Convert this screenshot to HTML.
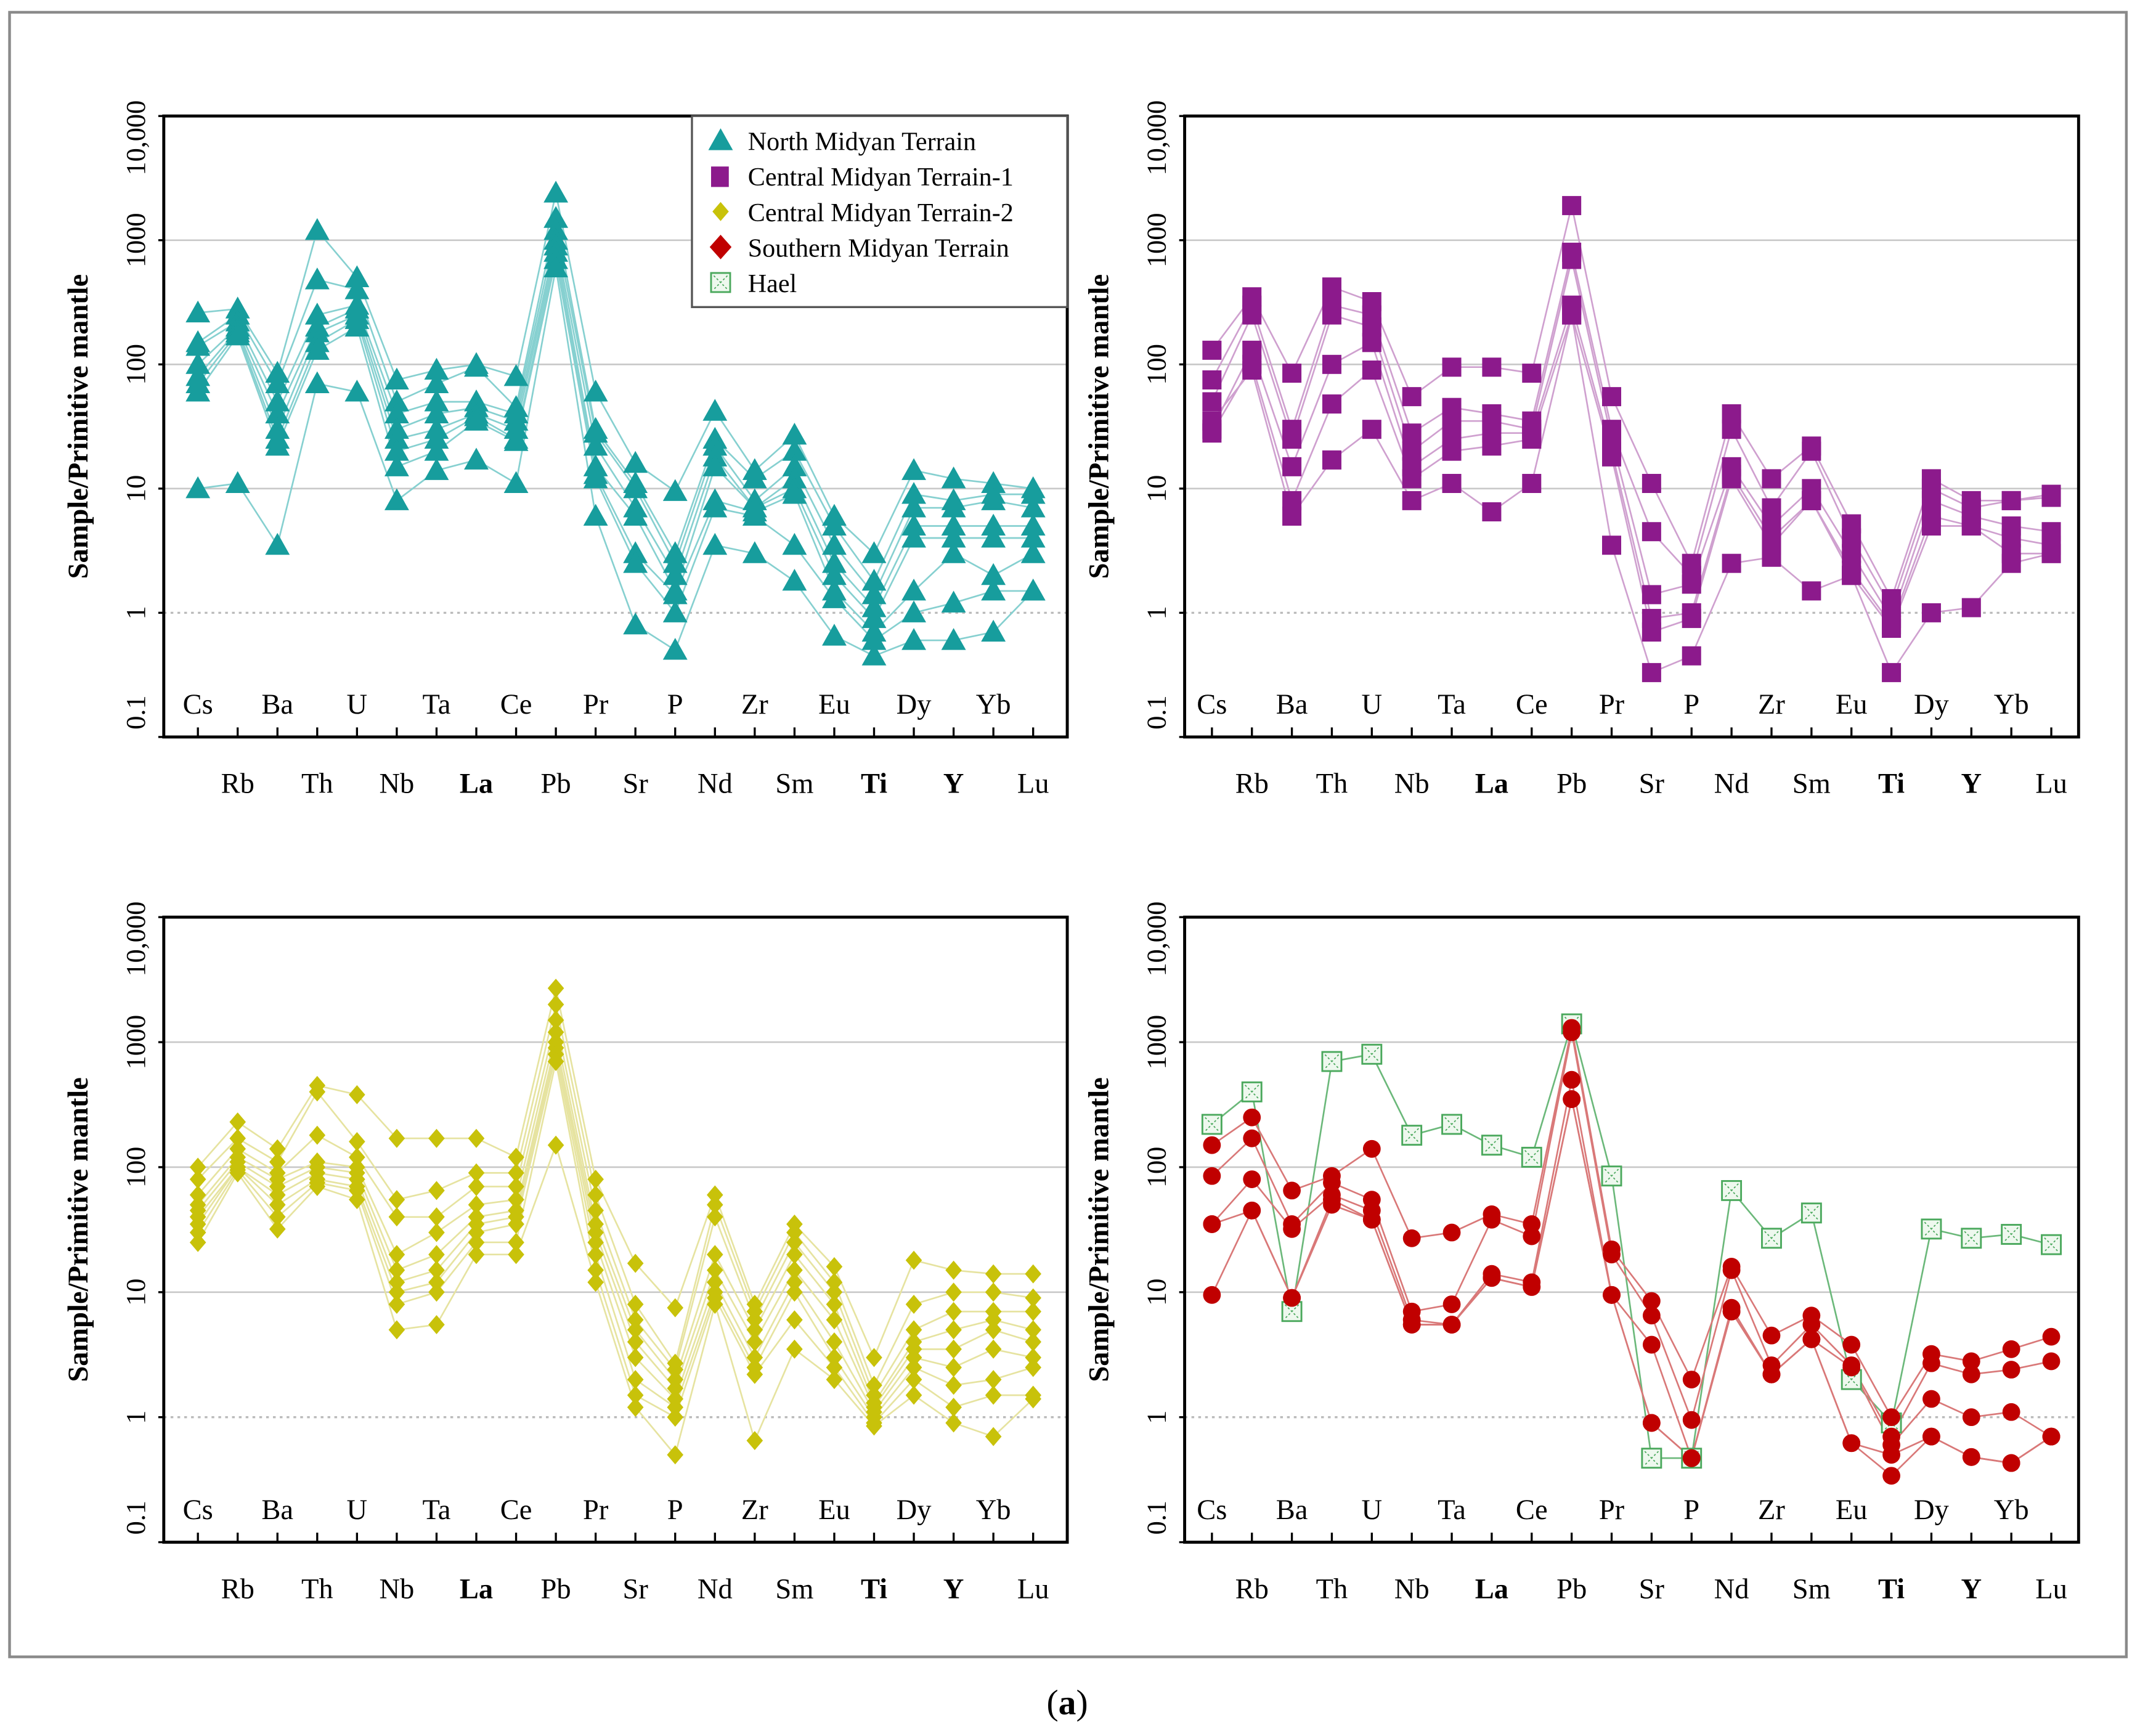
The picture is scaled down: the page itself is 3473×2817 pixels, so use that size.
<!DOCTYPE html>
<html><head><meta charset="utf-8">
<style>
html,body{margin:0;padding:0;background:#fff;}
svg{display:block;}
text{font-family:"Liberation Serif",serif;}
</style></head>
<body>
<svg id="fig" width="3473" height="2817" viewBox="0 0 1568 1272" preserveAspectRatio="none" xmlns="http://www.w3.org/2000/svg">
<rect x="0" y="0" width="1568" height="1272" fill="#fff"/>
<rect x="7" y="9" width="1551" height="1205" fill="none" stroke="#8a8a8a" stroke-width="2"/>
<text x="782" y="1256" font-size="26" text-anchor="middle">(<tspan font-weight="bold">a</tspan>)</text>
</svg>
<script>
const elements = ["Cs","Rb","Ba","Th","U","Nb","Ta","La","Ce","Pb","Pr","Sr","P","Nd","Zr","Sm","Eu","Ti","Dy","Y","Yb","Lu"];
const yTicks = [0.1,1,10,100,1000,10000];
const yTickLabels = ["0.1","1","10","100","1000","10,000"];

const northMidyan = [
 [260,280,85,1200,500,75,90,100,80,2400,60,16,9.5,42,14,27,6,3,14,12,11,10],
 [150,250,70,480,400,50,70,95,45,1500,30,11,3,25,12,20,5,1.8,9,8,9,9],
 [140,220,50,250,300,40,50,50,40,1200,28,10,2.5,22,8,15,3.5,1.4,7,7,8,7],
 [100,200,40,200,280,30,40,45,35,1000,22,7,2,18,7,12,2.5,1.1,5,5,5,5],
 [80,190,30,180,250,25,30,40,30,900,15,6,1.5,15,7,10,2,0.9,4,4,4,4],
 [70,180,25,150,230,20,25,38,25,800,13,3,1.4,8,6.5,9,1.5,0.7,1.5,3,2,3],
 [60,170,22,130,200,15,20,35,24,700,12,2.5,1,7,6,3.5,1.3,0.6,1,1.2,1.5,1.5],
 [10,11,3.5,70,60,8,14,17,11,600,6,0.8,0.5,3.5,3,1.8,0.65,0.45,0.6,0.6,0.7,1.5]
];
const centralMidyan1 = [
 [130,350,85,420,320,55,95,95,85,1900,55,11,2.5,40,12,22,5.2,1.3,12,8,8,9],
 [75,300,30,300,250,28,45,40,35,800,30,4.5,2,30,7,20,4,1.1,10,7,8,8.5],
 [50,250,25,250,200,20,35,35,30,700,25,1.4,1.7,15,5,10,3,0.9,8,6,5,4.5],
 [30,130,15,100,150,15,25,28,28,300,20,0.9,1,13,4,8,2.2,0.8,6,5,4,3.5],
 [28,100,8,48,90,12,20,22,25,250,18,0.7,0.9,12,3.5,8,2,0.75,5,5,3,3],
 [35,90,6,17,30,8,11,6.5,11,250,3.5,0.33,0.45,2.5,2.8,1.5,2,0.33,1,1.1,2.5,3]
];
const centralMidyan2 = [
 [100,230,140,450,380,170,170,170,120,2700,80,17,7.5,60,8,35,16,3,18,15,14,14],
 [80,170,110,400,160,55,65,90,90,2000,60,8,2.7,50,7,30,12,1.8,8,10,10,9],
 [60,140,90,180,120,40,40,70,70,1500,45,6,2.4,40,6,25,10,1.5,5,7,7,7],
 [50,120,80,110,100,20,30,50,55,1200,35,5,2,20,5,20,8,1.3,4,5,6,5],
 [45,110,70,100,90,15,20,40,45,1000,30,4,1.7,15,4,15,6,1.2,3.5,3.5,5,4],
 [40,100,60,90,80,12,15,35,40,900,25,3,1.4,12,3,12,4,1.1,3,2.5,3.5,3],
 [35,100,50,80,70,10,12,30,35,800,20,2,1.2,10,2.5,10,3,1,2.5,1.8,2,2.5],
 [30,95,40,75,65,8,10,25,25,700,15,1.5,1,9,2.2,6,2.5,0.9,2,1.2,1.5,1.5],
 [25,90,32,70,55,5,5.5,20,20,150,12,1.2,0.5,8,0.65,3.5,2,0.85,1.5,0.9,0.7,1.4]
];
const southernMidyan = [
 [150,250,65,85,140,27,30,42,35,1300,22,8.5,2,16,4.5,6.5,3.8,1,3.2,2.8,3.5,4.4],
 [85,170,35,75,55,7,8,38,28,1200,20,6.5,0.95,15,2.6,5.5,2.6,0.7,2.7,2.2,2.4,2.8],
 [35,80,32,60,45,6,5.5,14,12,500,9.5,3.8,0.47,7.5,2.2,4.2,2.5,0.6,1.4,1,1.1,0.7],
 [35,45,9,55,38,5.5,5.5,13,11,350,9.5,0.9,0.47,7,2.2,4.2,0.62,0.5,0.7,0.48,0.43,0.7],
 [9.5,45,9,50,38,5.5,5.5,13,11,350,9.5,0.9,0.47,7,2.2,4.2,0.62,0.34,0.7,0.48,0.43,0.7]
];
const hael = [220,400,7,700,800,180,220,150,120,1400,85,0.47,0.47,65,27,43,2,0.9,32,27,29,24];

const NS="http://www.w3.org/2000/svg";
const svg=document.getElementById('fig');
function mk(tag,attrs,parent){const e=document.createElementNS(NS,tag);for(const k in attrs)e.setAttribute(k,attrs[k]);(parent||svg).appendChild(e);return e;}

function drawPanel(p){
  const g=mk('g',{});
  
  
  const x0=p.x0,x1=p.x1,y0=p.y0,y1=p.y1,off=p.off;
  const xs=i=>x0+off+i*((x1-x0-2*off)/(elements.length-1));
  const ys=v=>y1-(Math.log10(v)+1)/5*(y1-y0);
  // gridlines
  [10,100,1000].forEach(t=>{const l=mk('line',{x1:x0,x2:x1,y1:ys(t),y2:ys(t),stroke:'#c8c8c8','stroke-width':1.2},g);
    
    });
  const d=mk('line',{x1:x0,x2:x1,y1:ys(1),y2:ys(1),stroke:'#bbb','stroke-width':1.5,'stroke-dasharray':'2,3'},g);
  
  
  // tick labels
  yTicks.forEach((t,i)=>{let cy=ys(t); if(i===yTicks.length-1)cy+=16; if(i===0)cy-=18;
    const tx=mk('text',{x:0,y:0,'font-size':20,'text-anchor':'middle',transform:`translate(${x0-14},${cy}) rotate(-90)`},g);
    
    
    tx.textContent=yTickLabels[i];
    mk('line',{x1:x0-4,x2:x0,y1:ys(t),y2:ys(t),stroke:'#000','stroke-width':1.5},g);});
  const yt=mk('text',{x:0,y:0,'font-size':21,'font-weight':'bold','text-anchor':'middle',transform:`translate(${x0-56},${(y0+y1)/2}) rotate(-90)`},g);
  
  
  yt.setAttribute('font-family','"Liberation Sans",sans-serif');
  yt.textContent='Sample/Primitive mantle';
  // category labels & ticks
  elements.forEach((el,i)=>{const x=xs(i);
    mk('line',{x1:x,x2:x,y1:y1,y2:y1-7,stroke:'#000','stroke-width':1.5},g);
    const top=i%2===0;
    const t=mk('text',{x:x,y:top?y1-17:y1+41,'font-size':21,'text-anchor':'middle'},g);
    
    
    if(el==='Ti'||el==='Y'||el==='La')t.setAttribute('font-weight','bold');
    t.textContent=el;});
  // series
  p.series.forEach(s=>{
    s.data.forEach(vals=>{
      const pts=vals.map((v,i)=>xs(i).toFixed(1)+','+ys(v).toFixed(1)).join(' ');
      const pl=mk('polyline',{points:pts,fill:'none',stroke:s.line,'stroke-width':1.2},g);
      
      
    });
  });
  p.series.forEach(s=>{
    s.data.forEach(vals=>{
      vals.forEach((v,i)=>{const m=marker(s.shape,xs(i),ys(v),s.color,g,s.stroke);
        
        });
    });
  });
  const fr=mk('rect',{x:x0,y:y0,width:x1-x0,height:y1-y0,fill:'none',stroke:'#000','stroke-width':2.2},g);
  
  
  return g;
}
function marker(shape,x,y,c,g,sc){
  if(shape==='tri')return mk('polygon',{points:`${x},${y-9} ${x-9},${y+7} ${x+9},${y+7}`,fill:c},g);
  if(shape==='sq')return mk('rect',{x:x-7,y:y-7,width:14,height:14,fill:c},g);
  if(shape==='dia')return mk('polygon',{points:`${x},${y-7} ${x+6},${y} ${x},${y+7} ${x-6},${y}`,fill:c},g);
  if(shape==='circ')return mk('circle',{cx:x,cy:y,r:6.5,fill:c},g);
  if(shape==='hael'){const gg=mk('g',{},g);mk('rect',{x:x-7,y:y-7,width:14,height:14,fill:'#eef8ee',stroke:sc,'stroke-width':1.3},gg);
    mk('path',{d:`M${x-5} ${y-5}L${x+5} ${y+5}M${x+5} ${y-5}L${x-5} ${y+5}`,stroke:sc,'stroke-width':0.8,'stroke-dasharray':'1.5,1.5'},gg);return gg;}
}
const TEAL='#179d9d',PUR='#8c1a8c',YEL='#c8c20a',RED='#c00000',GRN='#4aa85c';
drawPanel({name:'north-midyan-panel',x0:120,x1:782,y0:85,y1:540,off:25,series:[{key:'north-midyan',data:northMidyan,color:TEAL,line:'#86d0d0',shape:'tri'}]});
drawPanel({name:'central-midyan-1-panel',x0:868,x1:1523,y0:85,y1:540,off:20,series:[{key:'central-midyan-1',data:centralMidyan1,color:PUR,line:'#cfa0cf',shape:'sq'}]});
drawPanel({name:'central-midyan-2-panel',x0:120,x1:782,y0:672,y1:1130,off:25,series:[{key:'central-midyan-2',data:centralMidyan2,color:YEL,line:'#e6e3a0',shape:'dia'}]});
drawPanel({name:'southern-midyan-panel',x0:868,x1:1523,y0:672,y1:1130,off:20,series:[{key:'hael',data:[hael],color:'#eef8ee',line:'#6bb87a',shape:'hael',stroke:GRN},{key:'southern-midyan',data:southernMidyan,color:RED,line:'#d97878',shape:'circ'}]});

// legend
const lg=mk('g',{});


mk('rect',{x:507,y:85,width:275,height:140,fill:'#fff',stroke:'#555','stroke-width':1.5},lg);
const legendLabels=["North Midyan Terrain","Central Midyan Terrain-1","Central Midyan Terrain-2","Southern Midyan Terrain","Hael"];
const legendShapes=[['tri',TEAL],['sq',PUR],['dia',YEL],['dia2',RED],['hael','#eef8ee']];
legendLabels.forEach((lab,i)=>{const y=103+i*26;
  const e=mk('g',{},lg);
  
  
  const [sh,c]=legendShapes[i];
  if(sh==='dia2')mk('polygon',{points:`528,${y-9} 536,${y} 528,${y+9} 520,${y}`,fill:c},e);
  else if(sh==='sq')mk('rect',{x:521,y:y-7,width:13,height:15,fill:c},e);
  else marker(sh,528,y,c,e,GRN);
  const t=mk('text',{x:548,y:y+7,'font-size':19},e);
  t.textContent=lab;
});
</script>
</body></html>
